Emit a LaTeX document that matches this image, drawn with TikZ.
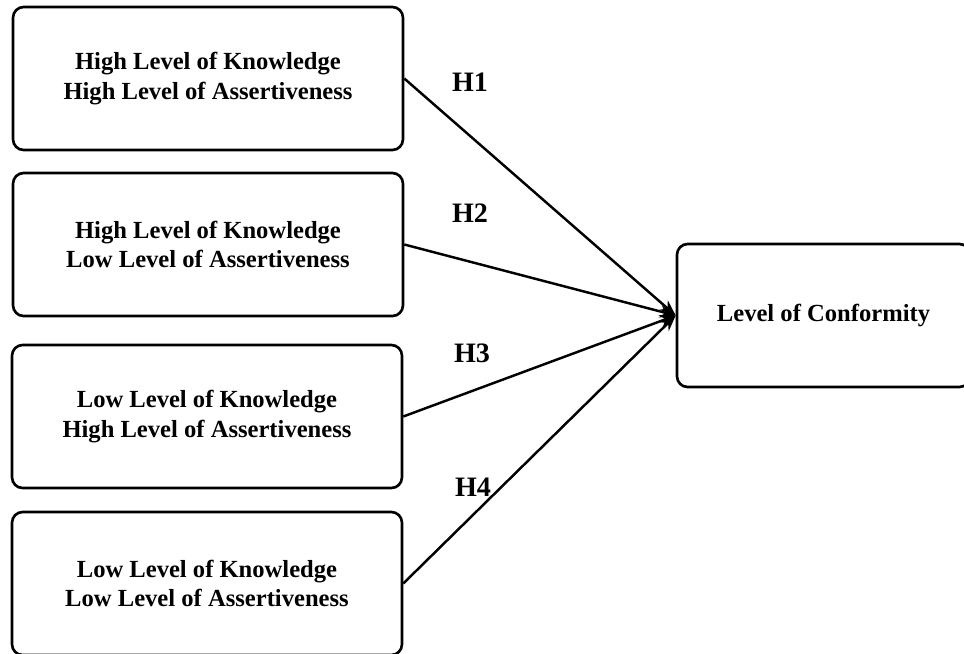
\documentclass[tikz,border=0pt]{standalone}
\usepackage{fontspec}
\setmainfont{Liberation Serif}
\usetikzlibrary{arrows.meta,positioning}

\begin{document}
\begin{tikzpicture}[x=0.02cm,y=-0.02cm,
    groupbox/.style={draw,line width=1.5pt,rounded corners=6pt,align=center,
        minimum width=7.8cm,minimum height=2.86cm,inner sep=0pt,
        font=\fontsize{14}{17}\selectfont\bfseries},
    hyparrow/.style={line width=1.4pt,-{Stealth[length=9pt,width=7pt]}},
    hyplabel/.style={font=\fontsize{16}{18}\selectfont\bfseries}]
    \useasboundingbox (0,0) rectangle (964,653);

    % Groups
    \node[groupbox] (hkha) at (208,78.5) {High Level of Knowledge\\High Level of Assertiveness};
    \node[groupbox] (hkla) at (208,244.5) {High Level of Knowledge\\Low Level of Assertiveness};
    \node[groupbox] (lkha) at (207,416.5) {Low Level of Knowledge\\High Level of Assertiveness};
    \node[groupbox] (lkla) at (207,583.5) {Low Level of Knowledge\\Low Level of Assertiveness};

    % Outcome
    \node[groupbox,minimum width=5.86cm] (conf) at (823.5,315.5) {Level of Conformity};

    % Hypotheses
    \draw[hyparrow] (hkha.east) -- (conf.west);
    \draw[hyparrow] (hkla.east) -- (conf.west);
    \draw[hyparrow] (lkha.east) -- (conf.west);
    \draw[hyparrow] (lkla.east) -- (conf.west);
    \node[hyplabel] (h1) at (470,82) {H1};
    \node[hyplabel] (h2) at (470,213) {H2};
    \node[hyplabel] (h3) at (472,353) {H3};
    \node[hyplabel] (h4) at (473,487) {H4};
\end{tikzpicture}
\end{document}
